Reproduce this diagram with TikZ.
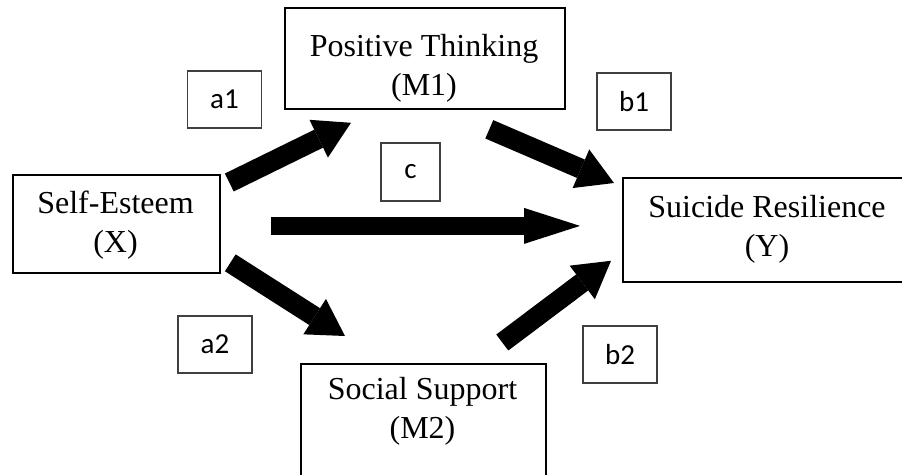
\documentclass[tikz,border=0pt]{standalone}
\usepackage{fontspec}
\setmainfont{Liberation Serif}
\newfontfamily\labelfont{Carlito}
\usetikzlibrary{arrows.meta}

\tikzset{
	varbox/.style={draw, line width=1.8pt, anchor=north west, inner sep=0pt},
	vartext/.style={align=center, font=\fontsize{32}{39}\selectfont},
	pathbox/.style={draw=black!75, line width=1.3pt, minimum width=74pt, minimum height=57pt,
	                inner sep=0pt, font=\labelfont\fontsize{29}{33}\selectfont},
	blockarrow/.style={line width=20pt, -{Triangle[length=36pt,width=42pt,line width=0pt]}}
}

\begin{document}
\begin{tikzpicture}[x=1pt,y=-1pt]
\useasboundingbox (0,0) rectangle (902,474);

% variables
\node[varbox, minimum width=207pt, minimum height=98pt]  (x)  at (12,174) {};
\node[varbox, minimum width=280pt, minimum height=101pt] (m1) at (284,7) {};
\node[varbox, minimum width=290pt, minimum height=104pt] (y)  at (622,177) {};
\node[varbox, minimum width=245pt, minimum height=120pt] (m2) at (300,363) {};

\node[vartext] (xt)  at (115.5,225) {Self-Esteem\\(X)};
\node[vartext] (m1t) at (424,68)    {Positive Thinking\\(M1)};
\node[vartext] (yt)  at (767,229)   {Suicide Resilience\\(Y)};
\node[vartext] (m2t) at (422.5,411) {Social Support\\(M2)};

% path labels
\node[pathbox] (a1) at (224.5,99.5) {a1};
\node[pathbox] (b1) at (634,101.5)  {b1};
\node[pathbox, minimum width=59pt, minimum height=58pt] (c) at (410.5,172) {c};
\node[pathbox] (a2) at (215,344.5)  {a2};
\node[pathbox] (b2) at (620,354.5)  {b2};

% paths
\draw[blockarrow] ([shift={(8.5,8.5)}]x.north east) -- ([shift={(67,13)}]m1.south west);
\draw[blockarrow] ([shift={(-76.5,19.5)}]m1.south east) -- ([shift={(-8,6)}]y.north west);
\draw[line width=18pt, -{Triangle[length=56pt,width=36pt,line width=0pt]}]
	([shift={(50,2)}]x.east) -- ([shift={(-42,-4)}]y.west);
\draw[blockarrow] ([shift={(9.5,-11)}]x.south east) -- ([shift={(45,-27)}]m2.north west);
\draw[blockarrow] ([shift={(-44.5,-20.5)}]m2.north east) -- ([shift={(-11,-22)}]y.south west);
\end{tikzpicture}
\end{document}
